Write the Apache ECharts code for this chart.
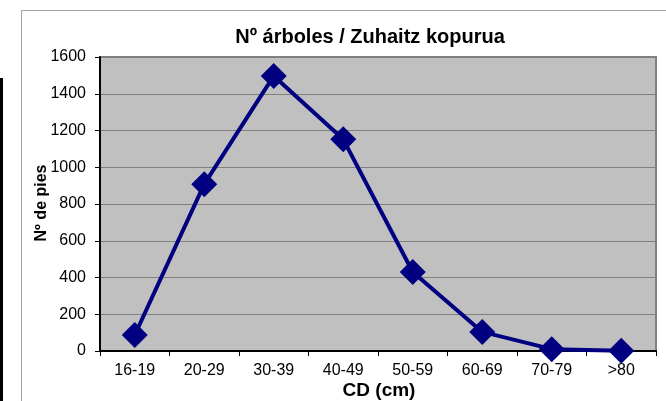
<!DOCTYPE html>
<html>
<head>
<meta charset="utf-8">
<script src="https://cdn.jsdelivr.net/npm/echarts@6/dist/echarts.min.js"></script>
<style>html,body{margin:0;padding:0;background:#fff}#c{width:666px;height:401px}</style>
</head>
<body>
<div id="c"></div>
<script>
const categories = ['16-19', '20-29', '30-39', '40-49', '50-59', '60-69', '70-79', '>80'];
const values = [87, 908, 1497, 1152, 430, 104, 10, 2];
const yTicks = {min: 0, max: 1600, interval: 200};
const titleText = 'Nº árboles / Zuhaitz kopurua';
const xTitle = 'CD (cm)';
const yTitle = 'Nº de pies';

const chart = echarts.init(document.getElementById('c'), null, {renderer: 'canvas'});
const font = '"Liberation Sans", Arial, sans-serif';
chart.setOption({
  animation: false,
  backgroundColor: '#ffffff',
  graphic: [
    {type: 'rect', shape: {x: 0, y: 78, width: 3, height: 330}, style: {fill: '#000'}, silent: true},
    {type: 'line', shape: {x1: 21.5, y1: 10.5, x2: 21.5, y2: 401}, style: {stroke: '#a0a0a0', lineWidth: 1}, silent: true},
    {type: 'line', shape: {x1: 21.5, y1: 10.5, x2: 666, y2: 10.5}, style: {stroke: '#a0a0a0', lineWidth: 1}, silent: true},
    {type: 'text', x: 370, y: 37, silent: true,
     style: {text: titleText, font: 'bold 20px ' + font, fill: '#000', textAlign: 'center', textVerticalAlign: 'middle'}},
    {type: 'text', x: 379, y: 391, silent: true,
     style: {text: xTitle, font: 'bold 19px ' + font, fill: '#000', textAlign: 'center', textVerticalAlign: 'middle'}},
    {type: 'text', x: 42, y: 203, rotation: Math.PI / 2, silent: true,
     style: {text: yTitle, font: 'bold 16px ' + font, fill: '#000', textAlign: 'center', textVerticalAlign: 'middle'}}
  ],
  grid: {
    left: 100, top: 57, right: 10, bottom: 50,
    outerBoundsMode: 'none', containLabel: false,
    show: true, backgroundColor: '#c0c0c0', borderColor: '#808080', borderWidth: 2
  },
  xAxis: {
    type: 'category', data: categories, boundaryGap: true,
    axisLine: {lineStyle: {color: '#000', width: 2}},
    axisTick: {show: true, length: 5, lineStyle: {color: '#000'}},
    axisLabel: {fontFamily: font, fontSize: 16, color: '#000', margin: 12, interval: 0}
  },
  yAxis: {
    type: 'value', min: yTicks.min, max: yTicks.max, interval: yTicks.interval,
    axisLine: {show: true, lineStyle: {color: '#000', width: 2}},
    axisTick: {show: true, length: 5, lineStyle: {color: '#000'}},
    axisLabel: {fontFamily: font, fontSize: 16, color: '#000', margin: 14, formatter: v => String(v)},
    splitLine: {show: true, lineStyle: {color: '#808080', width: 1}}
  },
  series: [{
    type: 'line', data: values,
    symbol: 'diamond', symbolSize: 26, showAllSymbol: true,
    lineStyle: {color: '#000080', width: 4},
    itemStyle: {color: '#000080', borderWidth: 0}
  }]
});
</script>
</body>
</html>
